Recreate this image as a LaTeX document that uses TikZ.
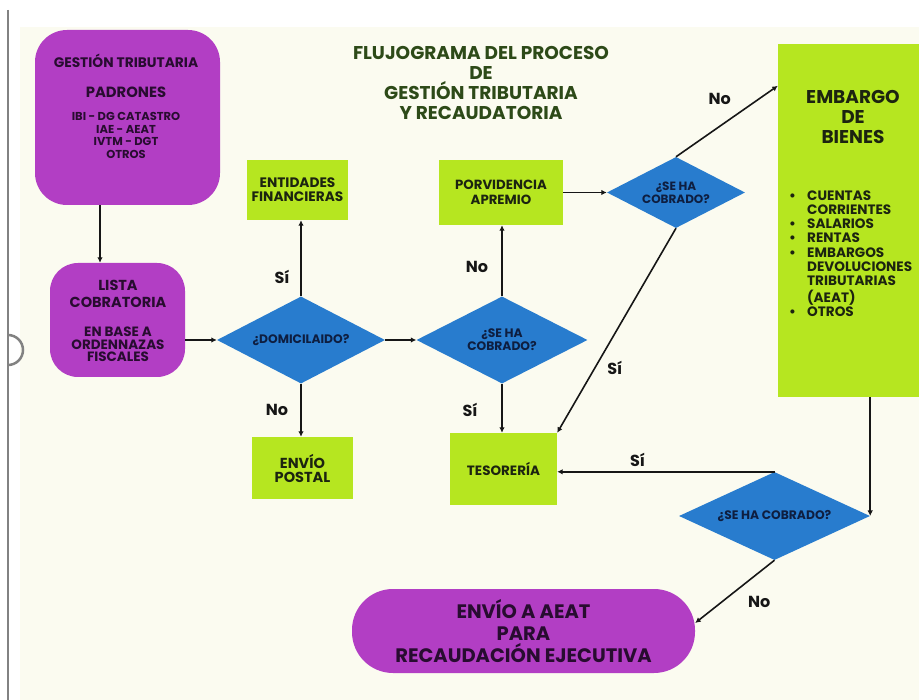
\documentclass[tikz,border=0pt]{standalone}
\usepackage{fontspec}
\setmainfont{Poppins}
\usetikzlibrary{shapes.geometric,arrows.meta}
\definecolor{bgc}{RGB}{251,251,240}
\definecolor{purp}{RGB}{178,62,196}
\definecolor{lime}{RGB}{182,230,32}
\definecolor{blu}{RGB}{40,124,206}
\definecolor{ptext}{RGB}{40,12,48}
\definecolor{gtext}{RGB}{28,36,16}
\definecolor{dtext}{RGB}{14,30,64}
\definecolor{ttext}{RGB}{45,74,24}
\definecolor{ink}{RGB}{22,22,22}
\definecolor{edge}{RGB}{130,130,130}
\newcommand\fs[2]{\fontsize{#1}{#2}\selectfont\bfseries}
\begin{document}
\begin{tikzpicture}[x=1pt,y=-1pt,
  pbox/.style={fill=purp, draw=none, inner sep=0pt},
  ptxt/.style={text=ptext, inner sep=0pt, align=center},
  gbox/.style={fill=lime, draw=none, inner sep=0pt, align=center, text=gtext},
  dia/.style={diamond, aspect=2, fill=blu, draw=none, inner sep=0pt, align=center, text=dtext},
  arr/.style={draw=ink, line width=1.6pt, -{Latex[length=5.5pt,width=5.5pt]}},
  lab/.style={font=\fs{16}{16}, text=ink, inner sep=0pt}]
\useasboundingbox (0,0) rectangle (919,700);
\fill[white] (0,0) rectangle (919,700);
\fill[bgc] (20,27) rectangle (919,700);
\draw[edge, line width=1.5pt] (8,10) -- (8,700);
\draw[edge, line width=2.5pt] (8,335) arc[start angle=90, end angle=-90, radius=15pt];

% title
\node[text=ttext, align=center, font=\fs{18.5}{20}, inner sep=0pt] (title) at (481,83)
  {FLUJOGRAMA DEL PROCESO\\DE\\GESTIÓN TRIBUTARIA\\Y RECAUDATORIA};

% purple boxes
\node[pbox, rounded corners=32pt, minimum width=185pt, minimum height=175pt] (gt) at (127.5,117.5) {};
\node[ptxt, font=\fs{13.8}{15}, anchor=base] (gt1) at (126,67.8) {GESTIÓN TRIBUTARIA};
\node[ptxt, font=\fs{14.8}{16}, anchor=base] (gt2) at (126,97.2) {PADRONES};
\node[ptxt, font=\fs{11.5}{12.4}] (gt3) at (126,135.5) {IBI - DG CATASTRO\\IAE - AEAT\\IVTM - DGT\\OTROS};

\node[pbox, rounded corners=28pt, minimum width=135pt, minimum height=114pt] (lc) at (117.5,320) {};
\node[ptxt, font=\fs{14.5}{17}] (lc1) at (118,293.5) {LISTA\\COBRATORIA};
\node[ptxt, font=\fs{13.5}{12.5}] (lc2) at (118,344.5) {EN BASE A\\ORDENNAZAS\\FISCALES};

\node[pbox, rounded corners=41pt, minimum width=343pt, minimum height=84pt, ptxt, font=\fs{19.5}{22}] (aeat) at (523.5,631)
  {ENVÍO A AEAT\\PARA\\RECAUDACIÓN EJECUTIVA};

% green boxes
\node[gbox, minimum width=101pt, minimum height=60pt, font=\fs{13.7}{14}] (ent) at (297.5,190) {ENTIDADES\\FINANCIERAS};
\node[gbox, minimum width=101pt, minimum height=62pt, font=\fs{14.5}{14}] (post) at (302.5,468) {ENVÍO\\POSTAL};
\node[gbox, minimum width=124pt, minimum height=65pt, font=\fs{13.3}{15}] (porv) at (501,192.5) {PORVIDENCIA\\APREMIO};
\node[gbox, minimum width=107pt, minimum height=72pt, font=\fs{13.5}{14}] (tes) at (503.5,469) {TESORERÍA};
\node[gbox, minimum width=152pt, minimum height=353pt] (emb) at (854,220.5) {};
\node[text=gtext, align=center, font=\fs{18.5}{20}, inner sep=0pt] (emb1) at (853,117) {EMBARGO\\DE\\BIENES};
\node[text=gtext, font=\fs{13.6}{14.3}, inner sep=0pt, anchor=west] (emb2) at (789,255.6)
  {\begin{tabular}{@{}l@{}l@{}}
   \makebox[18pt][l]{\textbullet} & CUENTAS\\
   & CORRIENTES\\
   \makebox[18pt][l]{\textbullet} & SALARIOS\\
   \makebox[18pt][l]{\textbullet} & RENTAS\\
   \makebox[18pt][l]{\textbullet} & EMBARGOS\\
   & DEVOLUCIONES\\
   & TRIBUTARIAS\\
   & (AEAT)\\
   \makebox[18pt][l]{\textbullet} & OTROS
   \end{tabular}};

% decisions
\node[dia, minimum width=168pt, minimum height=87pt, font=\fs{12.3}{12}] (d1) at (301,340) {¿DOMICILAIDO?};
\node[dia, minimum width=171pt, minimum height=87pt, font=\fs{12.3}{13}] (d2) at (502,340) {¿SE HA\\COBRADO?};
\node[dia, minimum width=138pt, minimum height=71pt, font=\fs{12}{13}] (d3) at (676,192.5) {¿SE HA\\COBRADO?};
\node[dia, minimum width=191pt, minimum height=88pt, font=\fs{12.3}{13}] (d4) at (774.5,516) {¿SE HA COBRADO?};

% connectors
\coordinate (ax) at (100,0);
\draw[arr] (gt.south -| ax) -- (lc.north -| ax);
\draw[arr] (lc.east |- d1.west) -- (d1.west);
\draw[arr] (d1.north) -- (d1.north |- ent.south) node[lab, pos=.25, xshift=-19pt] {Sí};
\draw[arr] (d1.south) -- (d1.south |- post.north) node[lab, pos=.5, xshift=-24pt] {No};
\draw[arr] (d1.east) -- (d2.west);
\draw[arr] (d2.north) -- (d2.north |- porv.south) node[lab, pos=.41, xshift=-25pt] {No};
\draw[arr] (d2.south) -- (d2.south |- tes.north) node[lab, pos=.54, xshift=-32pt] {Sí};
\draw[arr] (porv.east) -- (d3.west);
\draw[arr] (d3.north) -- ([yshift=-42pt]emb.north west) node[lab, pos=.43, yshift=27pt] {No};
\draw[arr] (d3.south) -- (tes.north east) node[lab, pos=.683, xshift=20pt] {Sí};
\draw[arr] (emb.south -| d4.east) -- (d4.east);
\draw[arr] (d4.north) -- (d4.north -| tes.east) node[lab, pos=.63, yshift=12pt] {Sí};
\draw[arr] (d4.south) -- ([yshift=8pt]aeat.east) node[lab, pos=.66, xshift=37pt] {No};
\end{tikzpicture}
\end{document}
